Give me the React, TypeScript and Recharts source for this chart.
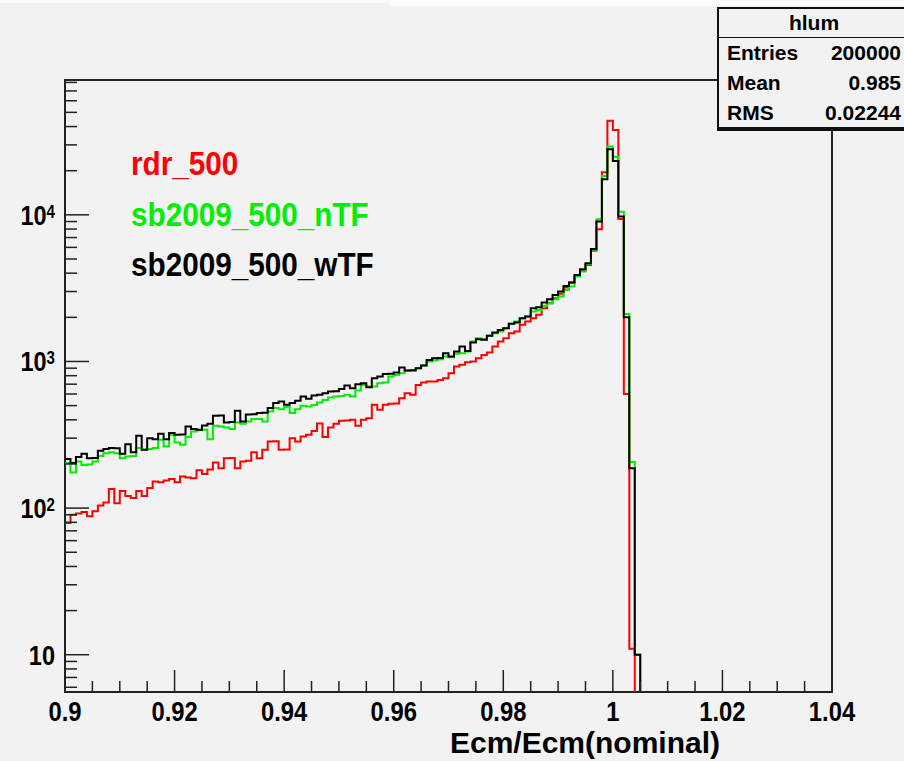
import { Legend, Line, LineChart, ReferenceArea, XAxis, YAxis } from 'recharts'

// histogram hlum, bins of 0.001 starting at Ecm/Ecm = 0.9
const BIN_START = 0.9
const BIN_WIDTH = 0.001

const RDR_500 = [
  79, 90, 92, 94, 88, 95, 104, 109, 135, 108,
  131, 121, 117, 131, 121, 137, 152, 150, 154, 158,
  150, 164, 162, 160, 181, 171, 183, 205, 187, 219,
  220, 187, 208, 210, 240, 219, 250, 285, 286, 250,
  251, 300, 285, 308, 316, 335, 378, 305, 355, 376,
  394, 396, 400, 364, 400, 410, 506, 468, 506, 514,
  516, 562, 608, 592, 692, 718, 729, 731, 749, 769,
  832, 923, 948, 988, 998, 1052, 1109, 1150, 1264, 1368,
  1442, 1559, 1600, 1777, 1871, 1972, 2079, 2306, 2497, 2700,
  2900, 3200, 3450, 3850, 4150, 4550, 5700, 7970, 19500, 43900,
  37900, 9380, 601, 11, 0,
]

const SB2009_500_NTF = [
  203, 175, 208, 197, 198, 208, 227, 237, 240, 237,
  219, 225, 227, 257, 250, 253, 257, 292, 263, 316,
  280, 270, 305, 333, 339, 342, 295, 364, 360, 355,
  346, 384, 376, 390, 405, 405, 390, 456, 481, 473,
  489, 445, 473, 499, 493, 505, 525, 547, 568, 577,
  582, 592, 577, 634, 692, 675, 675, 711, 718, 789,
  810, 832, 863, 866, 900, 938, 1000, 1015, 1036, 1081,
  1070, 1128, 1138, 1169, 1368, 1442, 1419, 1495, 1559, 1600,
  1687, 1805, 1871, 1972, 2023, 2189, 2247, 2395, 2497, 2656,
  2771, 3077, 3243, 3797, 4106, 4626, 5769, 9330, 18400, 29200,
  24900, 10500, 2110, 206, 10,
]

const SB2009_500_WTF = [
  216, 203, 223, 235, 219, 220, 246, 253, 257, 256,
  235, 273, 240, 311, 250, 300, 295, 321, 295, 325,
  316, 318, 360, 346, 342, 366, 376, 426, 428, 384,
  386, 461, 390, 435, 437, 445, 447, 481, 520, 533,
  507, 520, 539, 577, 556, 586, 593, 608, 624, 626,
  650, 685, 657, 700, 711, 668, 769, 789, 823, 825,
  841, 910, 868, 870, 900, 938, 1025, 1052, 1055, 1138,
  1081, 1169, 1264, 1181, 1347, 1419, 1404, 1495, 1575, 1642,
  1687, 1805, 1843, 1972, 2023, 2306, 2343, 2523, 2656, 2843,
  2997, 3275, 3452, 3894, 4250, 4680, 5860, 9000, 17500, 28000,
  23300, 9730, 2005, 187, 10,
]

const X_MAJOR = [0.9, 0.92, 0.94, 0.96, 0.98, 1, 1.02, 1.04]
const X_LABELS = ['0.9', '0.92', '0.94', '0.96', '0.98', '1', '1.02', '1.04']
const X_MINOR_STEP = 0.005

const Y_MAJOR = [10, 100, 1000, 10000]
const Y_EXP = ['', '2', '3', '4']
const Y_DOMAIN = [5.57, 83100]

const STATS_TITLE = 'hlum'
const STATS_ROWS = [
  ['Entries', '200000'],
  ['Mean', '0.985'],
  ['RMS', '0.02244'],
]

const SERIES = [
  { key: 'rdr', name: 'rdr_500', color: '#ff0000', values: RDR_500 },
  { key: 'ntf', name: 'sb2009_500_nTF', color: '#00ee00', values: SB2009_500_NTF },
  { key: 'wtf', name: 'sb2009_500_wTF', color: '#000000', values: SB2009_500_WTF },
]

const FONT = "'Liberation Sans', Arial, Helvetica, sans-serif"
const BG = '#f2f2f2'
const PLOT_LEFT = 65
const PLOT_BOTTOM = 692
const EMPTY = 1 // empty bins sit below the log axis and get clipped

const nBins = RDR_500.length
const data = Array.from({ length: nBins + 1 }, (_, i) => {
  const row: Record<string, number> = { x: +(BIN_START + i * BIN_WIDTH).toFixed(3) }
  for (const s of SERIES) {
    const v = i < nBins ? s.values[i] : 0
    row[s.key] = v > 0 ? v : EMPTY
  }
  return row
})

const xTicks: number[] = []
for (let v = X_MAJOR[0]; v <= X_MAJOR[X_MAJOR.length - 1] + 1e-9; v += X_MINOR_STEP) {
  xTicks.push(+v.toFixed(3))
}

const yTicks: number[] = []
for (const d of [1, 10, 100, 1000, 10000]) {
  for (let m = 1; m <= 9; m++) {
    const v = m * d
    if (v >= Y_DOMAIN[0] && v <= Y_DOMAIN[1]) yTicks.push(v)
  }
}

function XTick(props: any) {
  const { x, payload } = props
  const i = X_MAJOR.findIndex((m) => Math.abs(m - payload.value) < 1e-6)
  const len = i >= 0 ? 22 : 11
  return (
    <g>
      <line x1={x} x2={x} y1={PLOT_BOTTOM} y2={PLOT_BOTTOM - len} stroke="#222" strokeWidth={1.5} />
      {i >= 0 && (
        <g transform={`translate(${x} 721) scale(0.85 1)`}>
          <text textAnchor="middle" fontFamily={FONT} fontWeight="bold" fontSize={28} fill="#000">
            {X_LABELS[i]}
          </text>
        </g>
      )}
    </g>
  )
}

function YTick(props: any) {
  const { y, payload } = props
  const i = Y_MAJOR.indexOf(payload.value)
  const len = i >= 0 ? 24 : 12
  return (
    <g>
      <line x1={PLOT_LEFT} x2={PLOT_LEFT + len} y1={y} y2={y} stroke="#222" strokeWidth={1.5} />
      {i >= 0 && (
        <g transform={`translate(55 ${y + 10}) scale(0.84 1)`}>
          <text textAnchor="end" fontFamily={FONT} fontWeight="bold" fontSize={28} fill="#000">
            10
            {Y_EXP[i] && (
              <tspan dy={-7} fontSize={18}>
                {Y_EXP[i]}
              </tspan>
            )}
          </text>
        </g>
      )}
    </g>
  )
}

function LegendText(props: any) {
  return (
    <div style={{ transform: 'scaleX(0.9)', transformOrigin: 'left top' }}>
      {props.payload.map((p: any) => (
        <div
          key={p.value}
          style={{
            color: p.color,
            fontFamily: FONT,
            fontWeight: 'bold',
            fontSize: 33,
            lineHeight: '50.5px',
            whiteSpace: 'nowrap',
          }}
        >
          {p.value}
        </div>
      ))}
    </div>
  )
}

function StatsBox() {
  const text = { fontFamily: FONT, fontWeight: 'bold' as const, fontSize: 21, color: '#000' }
  return (
    <div
      style={{
        position: 'absolute',
        left: 717,
        top: 7,
        width: 190,
        height: 118,
        border: '2px solid #111',
        borderBottomWidth: 4,
        background: BG,
        boxSizing: 'content-box',
        ...text,
      }}
    >
      <div style={{ height: 28, lineHeight: '28px', textAlign: 'center', borderBottom: '1.5px solid #111' }}>
        {STATS_TITLE}
      </div>
      {STATS_ROWS.map(([k, v]) => (
        <div
          key={k}
          style={{ display: 'flex', justifyContent: 'space-between', height: 30, lineHeight: '30px', padding: '0 8px 0 8px' }}
        >
          <span>{k}</span>
          <span>{v}</span>
        </div>
      ))}
    </div>
  )
}

export default function App() {
  return (
    <div
      style={{
        position: 'absolute',
        left: 0,
        top: 0,
        width: 904,
        height: 761,
        overflow: 'hidden',
        background: BG,
      }}
    >
      <div style={{ position: 'absolute', left: 0, top: 0, width: 904, height: 3, background: '#fbfbfb' }} />
      <div style={{ position: 'absolute', left: 389, top: 0, width: 515, height: 6, background: '#fbfbfb' }} />
      <LineChart width={904} height={761} data={data} margin={{ top: 80, right: 72, bottom: 29, left: 8 }}>
        <XAxis
          dataKey="x"
          type="number"
          domain={[X_MAJOR[0], X_MAJOR[X_MAJOR.length - 1]]}
          allowDataOverflow
          ticks={xTicks}
          interval={0}
          height={40}
          axisLine={false}
          tickLine={false}
          tick={(p: any) => <XTick {...p} />}
        />
        <YAxis
          type="number"
          scale="log"
          domain={Y_DOMAIN}
          allowDataOverflow
          ticks={yTicks}
          interval={0}
          width={57}
          axisLine={false}
          tickLine={false}
          tick={(p: any) => <YTick {...p} />}
        />
        {SERIES.map((s) => (
          <Line
            key={s.key}
            type="stepAfter"
            dataKey={s.key}
            name={s.name}
            stroke={s.color}
            strokeWidth={2}
            dot={false}
            activeDot={false}
            isAnimationActive={false}
          />
        ))}
        <ReferenceArea
          x1={X_MAJOR[0]}
          x2={X_MAJOR[X_MAJOR.length - 1]}
          y1={Y_DOMAIN[0]}
          y2={Y_DOMAIN[1]}
          fill="none"
          stroke="#222"
          strokeWidth={2}
          ifOverflow="visible"
        />
        <Legend
          layout="horizontal"
          verticalAlign="middle"
          align="center"
          wrapperStyle={{ left: 131, top: 139, right: 'auto', bottom: 'auto', width: 'auto', height: 'auto' }}
          content={(p: any) => <LegendText {...p} />}
        />
      </LineChart>
      <div
        style={{
          position: 'absolute',
          left: 420,
          top: 727,
          width: 300,
          textAlign: 'right',
          fontFamily: FONT,
          fontWeight: 'bold',
          fontSize: 30,
          lineHeight: '32px',
          color: '#000',
          whiteSpace: 'nowrap',
        }}
      >
        Ecm/Ecm(nominal)
      </div>
      <StatsBox />
    </div>
  )
}
